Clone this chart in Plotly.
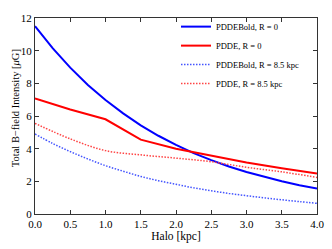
import plotly.graph_objects as go

halo_fine = [0.0, 0.25, 0.5, 0.75, 1.0, 1.25, 1.5, 1.75, 2.0, 2.25, 2.5, 2.75, 3.0, 3.25, 3.5, 3.75, 4.0]
pddebold_r0 = [11.5, 10.15, 8.96, 7.90, 6.98, 6.16, 5.43, 4.79, 4.23, 3.73, 3.30, 2.91, 2.57, 2.27, 2.00, 1.76, 1.56]
pddebold_r85 = [4.9, 4.32, 3.82, 3.37, 2.96, 2.62, 2.30, 2.04, 1.82, 1.60, 1.42, 1.26, 1.12, 0.99, 0.87, 0.76, 0.65]

halo_coarse = [0.0, 0.5, 1.0, 1.5, 2.0, 2.5, 3.0, 3.5, 4.0]
pdde_r0 = [7.08, 6.4, 5.8, 4.55, 4.0, 3.58, 3.15, 2.8, 2.48]
pdde_r85 = [5.55, 4.6, 3.88, 3.62, 3.42, 3.2, 2.86, 2.58, 2.24]

x_ticks = [0.0, 0.5, 1.0, 1.5, 2.0, 2.5, 3.0, 3.5, 4.0]
y_ticks = [0, 2, 4, 6, 8, 10, 12]

fig = go.Figure()
fig.add_trace(go.Scatter(x=halo_fine, y=pddebold_r0, mode="lines", name="PDDEBold, R = 0",
                         line=dict(color="#0000ff", width=2)))
fig.add_trace(go.Scatter(x=halo_coarse, y=pdde_r0, mode="lines", name="PDDE, R = 0",
                         line=dict(color="#ff0000", width=2)))
fig.add_trace(go.Scatter(x=halo_fine, y=pddebold_r85, mode="lines", name="PDDEBold, R = 8.5 kpc",
                         line=dict(color="#4455ff", width=1.5, dash="1.5px,1.5px"), line_shape="spline"))
fig.add_trace(go.Scatter(x=halo_coarse, y=pdde_r85, mode="lines", name="PDDE, R = 8.5 kpc",
                         line=dict(color="#ff4444", width=1.5, dash="1.5px,1.5px"), line_shape="spline"))

font = "Liberation Serif"
axis_common = dict(showline=True, linecolor="#333", linewidth=1, mirror="ticks",
                   ticks="inside", ticklen=4, tickcolor="#333", showgrid=False, zeroline=False,
                   automargin=False,
                   tickfont=dict(family=font, size=11, color="black"))

fig.update_layout(
    width=332, height=249,
    margin=dict(l=35, r=15, t=14, b=35),
    paper_bgcolor="white", plot_bgcolor="white",
    font=dict(family=font, color="black"),
    showlegend=True,
    legend=dict(x=0.5, y=1.03, xanchor="left", yanchor="top", bgcolor="rgba(0,0,0,0)",
                font=dict(family=font, size=8.5), itemwidth=30, tracegroupgap=0),
    xaxis=dict(range=[0, 4], tickvals=x_ticks, ticktext=[f"{v:.1f}" for v in x_ticks],
               title=dict(text="Halo [kpc]", font=dict(family=font, size=11.5), standoff=0),
               **axis_common),
    yaxis=dict(range=[0, 12], tickvals=y_ticks, **axis_common),
    annotations=[dict(text="Total B\u2212field Intensity [<i>\u03bc</i>G]", textangle=-90,
                      xref="paper", yref="paper", x=-0.071, y=0.54, xanchor="center", yanchor="middle",
                      showarrow=False, font=dict(family=font, size=10.5))],
)

fig.write_html("out.html", config={"displayModeBar": False},
               post_script="document.body.style.margin='0';document.body.style.overflow='hidden';")
